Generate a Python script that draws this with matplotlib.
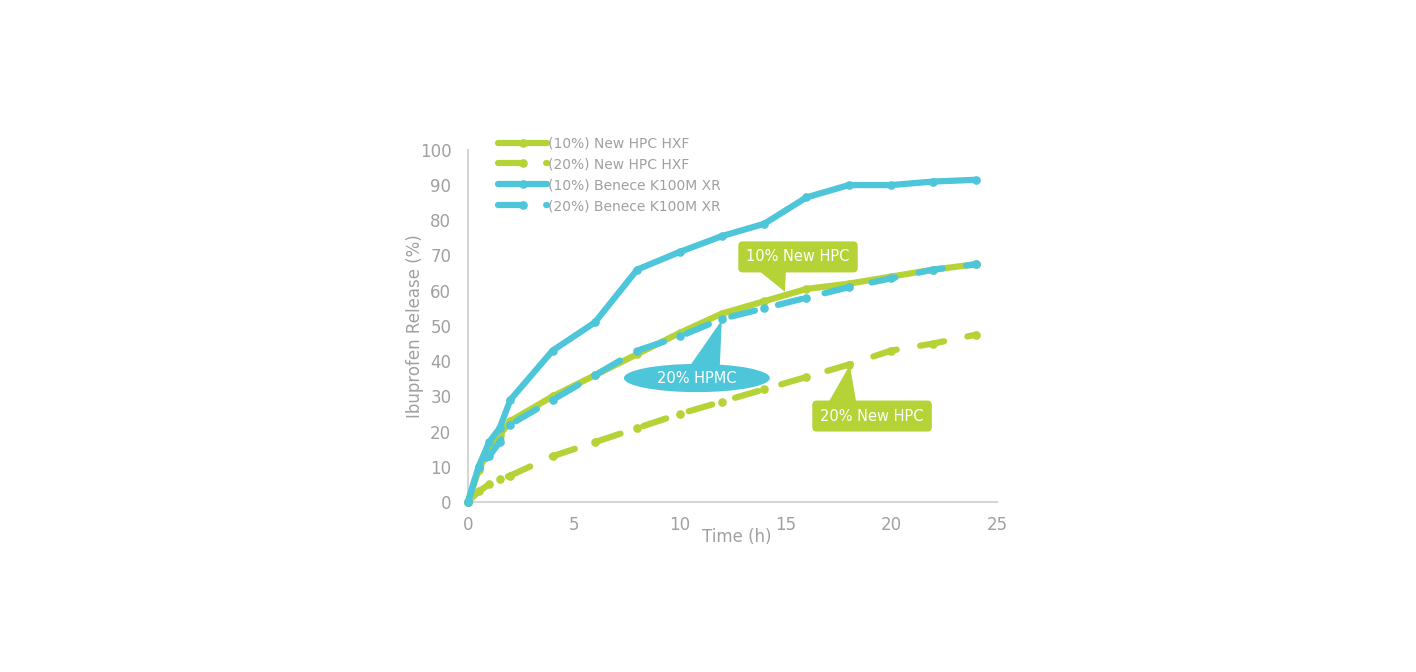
import matplotlib
matplotlib.use("Agg")
import matplotlib.pyplot as plt
from matplotlib.patches import Ellipse

plt.rcParams['font.family'] = ['DejaVu Sans']

time_h = [0, 0.5, 1, 1.5, 2, 4, 6, 8, 10, 12, 14, 16, 18, 20, 22, 24]
hpc10 = [0, 9, 15, 19, 23, 30, 36, 42, 48, 53.5, 57, 60.5, 62, 64, 66, 67.5]
hpc20 = [0, 3, 5, 6.5, 7.5, 13, 17, 21, 25, 28.5, 32, 35.5, 39, 43, 45, 47.5]
ben10 = [0, 10, 17, 21, 29, 43, 51, 66, 71, 75.5, 79, 86.5, 90, 90, 91, 91.5]
ben20 = [0, 10, 13, 17, 22, 29, 36, 43, 47, 52, 55, 58, 61, 63.5, 66, 67.5]

labels = ["(10%) New HPC HXF", "(20%) New HPC HXF",
          "(10%) Benece K100M XR", "(20%) Benece K100M XR"]
x_ticks = [0, 5, 10, 15, 20, 25]
y_ticks = list(range(0, 101, 10))

GREEN = "#B5D336"
CYAN = "#4DC6D9"
TXT = "#A0A0A0"

fig = plt.figure(figsize=(14.16, 6.72), dpi=100)
ax = fig.add_axes([0.3305, 0.253, 0.3735, 0.524])

dash = (0, (3.9, 3.8))
lw = 4.5
ms = 5.2
ax.plot(time_h, hpc10, color=GREEN, lw=lw, solid_capstyle='round', solid_joinstyle='round',
        marker='o', ms=ms, label=labels[0], zorder=3)
ax.plot(time_h, hpc20, color=GREEN, lw=lw, linestyle=dash, dash_capstyle='round',
        marker='o', ms=ms, label=labels[1], zorder=3)
ax.plot(time_h, ben10, color=CYAN, lw=lw, solid_capstyle='round', solid_joinstyle='round',
        marker='o', ms=ms, label=labels[2], zorder=3)
ax.plot(time_h, ben20, color=CYAN, lw=lw, linestyle=dash, dash_capstyle='round',
        marker='o', ms=ms, label=labels[3], zorder=4)

ax.set_xlim(0, 25)
ax.set_ylim(0, 100)
ax.set_xticks(x_ticks)
ax.set_yticks(y_ticks)
ax.tick_params(length=0, labelsize=12, labelcolor=TXT)
ax.tick_params(axis='y', pad=12)
ax.tick_params(axis='x', pad=10)
for s in ['top', 'right']:
    ax.spines[s].set_visible(False)
for s in ['left', 'bottom']:
    ax.spines[s].set_color("#D6D6D6")
    ax.spines[s].set_linewidth(1.5)
for ln in ax.lines:
    ln.set_clip_on(False)

ax.set_ylabel("Ibuprofen Release (%)", fontsize=12, color=TXT, labelpad=-3)
ax.text(12.7, -9.9, "Time (h)", fontsize=12, color=TXT, ha='center', va='center')

leg = fig.legend(loc='upper left', bbox_to_anchor=(0.352, 0.797), frameon=False,
                 fontsize=10, handlelength=3.5, handletextpad=0.1,
                 labelspacing=0.5, borderaxespad=0, borderpad=0)
for t in leg.get_texts():
    t.set_color(TXT)

# callouts
box = dict(boxstyle="round,pad=0.55,rounding_size=0.3", fc=GREEN, ec='none')
wedge = "wedge,tail_width=2.2,shrink_factor=0.5"
ax.annotate("", xy=(14.98, 59.7), xytext=(14.4, 67.5),
            arrowprops=dict(arrowstyle=wedge, fc=GREEN, ec='none',
                            shrinkA=0, shrinkB=0, mutation_scale=10), zorder=6)
ax.text(15.6, 69.6, "10% New HPC", fontsize=10.5, color='white',
        ha='center', va='center', bbox=box, zorder=7)
ax.annotate("", xy=(18.05, 38.9), xytext=(17.7, 27.0),
            arrowprops=dict(arrowstyle=wedge, fc=GREEN, ec='none',
                            shrinkA=0, shrinkB=0, mutation_scale=10), zorder=6)
ax.text(19.1, 24.4, "20% New HPC", fontsize=10.5, color='white',
        ha='center', va='center', bbox=box, zorder=7)
ax.annotate("", xy=(12.0, 51.7), xytext=(11.2, 37.5),
            arrowprops=dict(arrowstyle=wedge, fc=CYAN, ec='none',
                            shrinkA=0, shrinkB=0, mutation_scale=10), zorder=6)
ax.add_patch(Ellipse((10.82, 35.2), 6.9, 8.0, fc=CYAN, ec='none', zorder=6))
ax.text(10.82, 35.0, "20% HPMC", fontsize=10.5, color='white',
        ha='center', va='center', zorder=7)

fig.savefig("out.png", dpi=100)
